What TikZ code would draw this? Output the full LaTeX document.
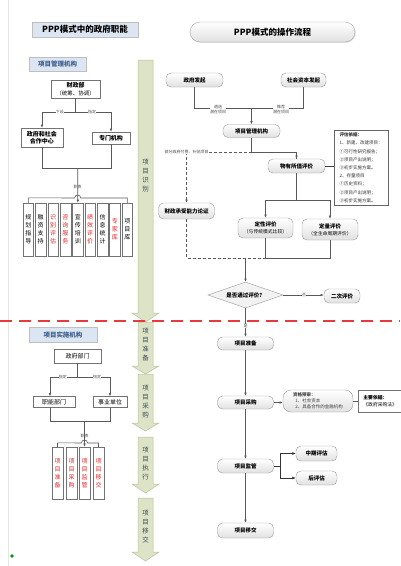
\documentclass[tikz,border=0pt]{standalone}
\usepackage{fontspec}
\setmainfont{Noto Sans CJK SC}
\usetikzlibrary{shapes.geometric,arrows.meta,shadows}
\newcommand\fs[2]{\fontsize{#1}{#2}\selectfont}
\definecolor{lblue}{HTML}{DCE6F2}
\definecolor{dblue}{HTML}{3F5F8F}
\definecolor{gfill}{HTML}{DCE3C6}
\definecolor{gline}{HTML}{B8C29E}
\definecolor{gtext}{HTML}{3A4A5C}
\definecolor{redt}{HTML}{E02424}
\definecolor{redd}{HTML}{E63A3F}
\tikzset{
 ln/.style={draw=black!65, line width=0.6pt},
 arr/.style={ln, -{Latex[length=3.2pt,width=2.6pt]}},
 dsh/.style={ln, dash pattern=on 3pt off 2pt},
 shad/.style={drop shadow={shadow xshift=0.8pt, shadow yshift=-0.8pt, opacity=0.25}},
 rbox/.style={draw=black!40, rounded corners=5pt, top color=white, bottom color=black!12, font=\fs{5.5}{7}, inner sep=0pt, align=center},
 sbox/.style={draw=black!55, fill=white, font=\fs{6}{7.5}, inner sep=0pt, align=center, shad},
 vbox/.style={sbox, minimum width=10.7pt, minimum height=53pt, font=\fs{6}{8}},
 tbox/.style={draw=black!25, fill=lblue, inner sep=0pt, shad},
 lbl/.style={fill=white, inner sep=0.4pt, font=\fs{4}{4.8}, text=black!70, align=center},
 garr/.style={fill=gfill, draw=gline, line width=0.5pt},
 gtxt/.style={font=\fs{6.5}{9}, text=gtext, align=center},
}
\begin{document}
\begin{tikzpicture}[x=1pt,y=-1pt]
\useasboundingbox (0,0) rectangle (400,566);
\fill[white] (0,0) rectangle (400,566);
\draw[black!10, line width=0.5pt] (8,0) -- (8,566);
\fill[green!60!black] (12,556) circle (1.8pt);

% ---------- green stage arrows ----------
\draw[garr] (138,60) -- (153,60) -- (153,313) -- (159,313) -- (145.5,322) -- (132,313) -- (138,313) -- cycle;
\draw[garr] (138,322) -- (153,322) -- (153,366) -- (159,366) -- (145.5,374) -- (132,366) -- (138,366) -- cycle;
\draw[garr] (138,374) -- (153,374) -- (153,423) -- (159,423) -- (145.5,431) -- (132,423) -- (138,423) -- cycle;
\draw[garr] (138,437) -- (153,437) -- (153,484) -- (159,484) -- (145.5,493) -- (132,484) -- (138,484) -- cycle;
\draw[garr] (138,498) -- (153,498) -- (153,552) -- (159,552) -- (145.5,561) -- (132,552) -- (138,552) -- cycle;
\node[gtxt] (s1) at (145.5,176) {项\\目\\识\\别};
\node[gtxt] (s2) at (145.5,345) {项\\目\\准\\备};
\node[gtxt] (s3) at (145.5,402) {项\\目\\采\\购};
\node[gtxt] (s4) at (145.5,464) {项\\目\\执\\行};
\node[gtxt] (s5) at (145.5,527) {项\\目\\移\\交};

% ---------- red dashed divider ----------
\draw[redd, line width=1.3pt, dash pattern=on 12pt off 7pt] (0,321) -- (400,321);

% ---------- left column, top ----------
\node[tbox, minimum width=106pt, minimum height=15pt, font=\bfseries\fs{8.5}{10}] (t1) at (85,29.5) {PPP模式中的政府职能};
\node[tbox, minimum width=57pt, minimum height=14pt, font=\bfseries\fs{6.5}{8}, text=dblue] (m1) at (57.5,64) {项目管理机构};
\node[sbox, minimum width=49pt, minimum height=18pt] (czb) at (75.5,89) {\textbf{财政部}\\{\fs{5.5}{7}（统筹、协调）}};
\node[sbox, minimum width=42pt, minimum height=19pt, font=\bfseries\fs{6}{7.5}] (hz) at (42,137.5) {政府和社会\\合作中心};
\node[sbox, minimum width=38pt, minimum height=12pt, font=\bfseries\fs{6}{7.5}] (zm) at (111,138) {专门机构};
\coordinate (a1) at (75.5,112);
\coordinate (a2) at (42,112);
\coordinate (a3) at (111,112);
\draw[ln] (czb.south) -- (a1);
\draw[ln] (a2) -- (a3);
\draw[arr] (a2) -- (hz.north);
\draw[arr] (a3) -- (zm.north);
\node[lbl] (l1) at (60,112) {下设};
\node[lbl] (l2) at (92,112) {指定};
\coordinate (b1) at (42,168);
\coordinate (b2) at (111,168);
\coordinate (b3) at (77.7,168);
\coordinate (b4) at (77.7,198);
\draw[ln] (hz.south) -- (b1) -- (b2) -- (zm.south);
\node[lbl] (l3) at (77.7,187) {职责};

\foreach \i/\t/\c in {0/规\\划\\指\\导/black, 1/融\\资\\支\\持/black, 2/识\\别\\评\\估/redt, 3/咨\\询\\服\\务/redt, 4/宣\\传\\培\\训/black, 5/绩\\效\\评\\价/redt, 6/信\\息\\统\\计/black, 7/专\\家\\库/redt, 8/项\\目\\库/black}{
  \node[vbox, text=\c] (v\i) at ({28.3+12.375*\i},229.5) {\t};
}
\draw[ln] (v0.north) -- ++(0,-5) -- (74.7,198) .. controls (74.7,194) and (80.7,194) .. (80.7,198) -- (127.3,198) -- (v8.north);
\draw[arr] (b3) -- (v4.north);

% ---------- left column, bottom ----------
\node[tbox, minimum width=68pt, minimum height=15pt, font=\bfseries\fs{6.5}{8}, text=dblue] (m2) at (63,334.5) {项目实施机构};
\node[sbox, minimum width=47pt, minimum height=14pt] (zfbm) at (77.5,356) {政府部门};
\node[sbox, minimum width=42pt, minimum height=11pt] (znbm) at (54,402) {职能部门};
\node[sbox, minimum width=34pt, minimum height=11pt] (sydw) at (110,402) {事业单位};
\coordinate (c1) at (77.5,377);
\coordinate (c2) at (50,377);
\coordinate (c3) at (110,377);
\draw[ln] (zfbm.south) -- (c1);
\draw[ln] (c2) -- (c3);
\draw[arr] (c2) -- (c2 |- znbm.north);
\draw[arr] (c3) -- (sydw.north);
\node[lbl] (l4) at (63,377) {指定};
\node[lbl] (l5) at (97,377) {指定};
\coordinate (d1) at (50,421);
\coordinate (d2) at (110,421);
\coordinate (d3) at (84.5,421);
\draw[ln] (d1 |- znbm.south) -- (d1) -- (d2) -- (sydw.south);
\node[lbl] (l6) at (84.5,436) {职责};
\foreach \i/\t/\xx in {0/项\\目\\准\\备/57.5, 1/项\\目\\采\\购/71.5, 2/项\\目\\监\\管/84.5, 3/项\\目\\移\\交/98.5}{
  \node[vbox, minimum width=11pt, minimum height=52pt, text=redt] (w\i) at (\xx,473) {\t};
}
\draw[ln] (w0.north) -- ++(0,-4) -- (81.5,443) .. controls (81.5,439) and (87.5,439) .. (87.5,443) -- (98.5,443) -- (w3.north);
\draw[arr] (d3) -- (w2.north);

% ---------- right column ----------
\node[draw=black!35, rounded corners=10pt, top color=white, bottom color=black!12, minimum width=165pt, minimum height=20pt, inner sep=0pt, shad, font=\bfseries\fs{8.5}{10}] (t2) at (272.5,32) {PPP模式的操作流程};

\node[rbox, minimum width=57pt, minimum height=14pt] (zffq) at (194.5,80) {\bfseries 政府发起};
\node[rbox, minimum width=45pt, minimum height=14pt] (shfq) at (303.5,80) {\bfseries 社会资本发起};
\coordinate (e1) at (251.5,108);
\draw[ln] (zffq.south) |- (e1);
\draw[ln] (shfq.south) |- (e1);
\node[lbl] (l7) at (218,109.5) {遴选\\潜在项目};
\node[lbl] (l8) at (281,109.5) {推荐\\潜在项目};
\node[rbox, minimum width=57pt, minimum height=13pt] (xmgl) at (251.5,131) {\bfseries 项目管理机构};
\draw[arr] (e1) -- (xmgl.north);

\node[rbox, minimum width=57pt, minimum height=14pt] (wysz) at (296.5,166) {\bfseries 物有所值评价};
\node[rbox, minimum width=56pt, minimum height=16pt] (czcs) at (186.5,211) {\bfseries 财政承受能力论证};
\coordinate (f1) at (251.5,152);
\coordinate (f2) at (186.5,152);
\draw[ln] (xmgl.south) -- (f1) -| (wysz.north);
\draw[arr] (f1 -| wysz.north) -- (wysz.north);
\draw[dsh] (f1) -- (f2);
\draw[dsh, -{Latex[length=3.2pt,width=2.6pt]}] (f2) -- (czcs.north);
\node[lbl] (l9) at (f2) {部分政府付费、补贴项目};

\node[draw=black!60, fill=white, inner sep=1.5pt, align=left, font=\fs{4.5}{8.2}, text=black!80, minimum width=54pt, minimum height=75pt, anchor=north west, shad] (ev) at (334,130) {\textbf{评估依据：}\\1、新建、改建项目：\\①可行性研究报告；\\②项目产出说明；\\③初步实施方案。\\2、存量项目\\①历史资料；\\②项目产出说明；\\③初步实施方案。};
\draw[draw=black!75, line width=1pt] (wysz.east) -- (wysz.east -| ev.west);

\node[rbox, minimum width=55pt, minimum height=20pt] (dx) at (265.5,228) {\textbf{定性评价}\\{\fs{4.8}{6}（与传统模式比较）}};
\node[rbox, minimum width=56pt, minimum height=21pt] (dl) at (330,229.5) {\textbf{定量评价}\\{\fs{4.8}{6}（全生命周期评价）}};
\coordinate (g1) at (296.5,200);
\coordinate (g2) at (265.5,200);
\coordinate (g3) at (330,200);
\draw[ln] (wysz.south) -- (g1);
\draw[ln] (g2) -- (g3);
\draw[arr] (g2) -- (dx.north);
\draw[arr] (g3) -- (dl.north);

\node[diamond, aspect=3, draw=black!40, fill=black!5, minimum width=75pt, minimum height=26pt, inner sep=0pt, font=\bfseries\fs{5.5}{7}] (dia) at (245.5,295) {是否通过评价？};
\coordinate (h1) at (186.5,258);
\coordinate (h2) at (265.5,258);
\coordinate (h3) at (330,258);
\coordinate (h4) at (245.5,258);
\draw[dsh] (czcs.south) -- (h1) -- (h2);
\draw[ln] (dx.south) -- (h2) -- (h3) -- (dl.south);
\draw[arr] (h4) -- (dia.north);

\node[rbox, minimum width=36pt, minimum height=14pt] (ec) at (342,296) {\bfseries 二次评价};
\draw[arr] (dia.east) -- (ec.west |- dia.east);
\node[lbl] (l10) at (304,295) {否};

\node[rbox, minimum width=56pt, minimum height=13pt] (zb) at (245.5,343.5) {\bfseries 项目准备};
\draw[arr] (dia.south) -- (zb.north);
\node[lbl] (l11) at (245.5,326) {是};

\node[rbox, minimum width=56pt, minimum height=13pt] (cg) at (245.5,402.5) {\bfseries 项目采购};
\draw[arr] (zb.south) -- (cg.north);
\node[rbox, rounded corners=8pt, minimum width=70pt, minimum height=22pt, align=left, font=\fs{4.5}{6.2}, text=black!75] (zgys) at (318,401) {\textbf{资格预审：}\\\ \ 1、社会资本\\\ \ 2、具备合作的金融机构};
\draw[arr] (cg.east) -- (zgys.west |- cg.east);
\node[draw=black!55, fill=white, inner sep=1pt, align=left, font=\fs{4.8}{7}, minimum width=44pt, minimum height=22pt, anchor=west] (zy) at (358,401) {\textbf{主要依据：}\\《政府采购法》};
\draw[ln] (zgys.east) -- (zy.west);

\node[rbox, minimum width=56pt, minimum height=14pt] (jg) at (245.5,466) {\bfseries 项目监管};
\draw[arr] (cg.south) -- (jg.north);
\node[rbox, minimum width=41pt, minimum height=15pt] (zq) at (316.5,453.5) {\bfseries 中期评估};
\node[rbox, minimum width=41pt, minimum height=14pt] (hp) at (316.5,478) {\bfseries 后评估};
\coordinate (k1) at (280,466);
\coordinate (k2) at (280,453.5);
\coordinate (k3) at (280,478);
\draw[draw=black!80, line width=0.7pt] (jg.east) -- (k1);
\draw[draw=black!80, line width=0.7pt] (k2) -- (k3);
\draw[draw=black!80, line width=0.7pt, -{Latex[length=3.5pt,width=3pt]}] (k2) -- (zq.west);
\draw[draw=black!80, line width=0.7pt, -{Latex[length=3.5pt,width=3pt]}] (k3) -- (hp.west);

\node[rbox, minimum width=56pt, minimum height=15pt] (yj) at (245.5,530.5) {\bfseries 项目移交};
\draw[arr] (jg.south) -- (yj.north);
\end{tikzpicture}
\end{document}
